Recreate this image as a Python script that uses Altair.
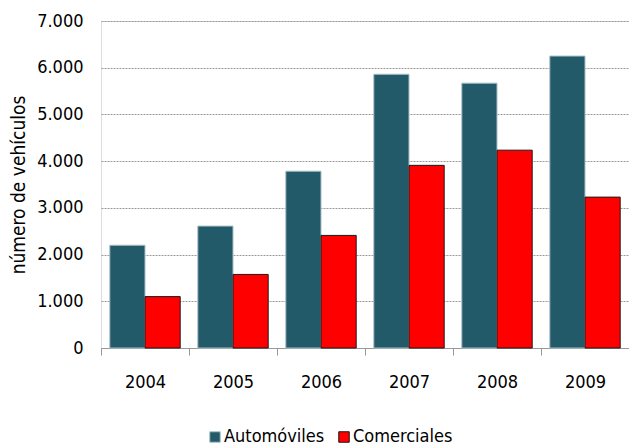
import altair as alt
import pandas as pd

years = ["2004", "2005", "2006", "2007", "2008", "2009"]
automoviles = [2200, 2610, 3785, 5860, 5670, 6250]
comerciales = [1100, 1575, 2410, 3910, 4235, 3230]
series = ["Automóviles", "Comerciales"]
fill_colors = ["#235A69", "#FF0000"]
edge_colors = ["#A9C1C8", "#1A1A1A"]

rows = []
for i, y in enumerate(years):
    rows.append({"year": y, "tipo": series[0], "value": automoviles[i]})
    rows.append({"year": y, "tipo": series[1], "value": comerciales[i]})
df = pd.DataFrame(rows)

FONT = "DejaVu Sans Condensed"

chart = (
    alt.Chart(df)
    .mark_bar(strokeWidth=1)
    .encode(
        x=alt.X(
            "year:N",
            sort=years,
            title=None,
            scale=alt.Scale(paddingInner=0, paddingOuter=0),
            axis=alt.Axis(
                labelAngle=0,
                tickBand="extent",
                domainColor="#999999",
                tickColor="#999999",
                tickSize=7,
                labelPadding=18,
                labelFontSize=18,
                labelColor="#000000",
                labelFont=FONT,
            ),
        ),
        xOffset=alt.XOffset(
            "tipo:N",
            sort=series,
            scale=alt.Scale(paddingInner=0, paddingOuter=0.25),
        ),
        y=alt.Y(
            "value:Q",
            title="número de vehículos",
            scale=alt.Scale(domain=[0, 7000], nice=False),
            axis=alt.Axis(
                values=[0, 1000, 2000, 3000, 4000, 5000, 6000, 7000],
                labelExpr="replace(format(datum.value, ','), ',', '.')",
                domain=False,
                ticks=False,
                labelPadding=18,
                labelFontSize=18,
                labelColor="#000000",
                labelFont=FONT,
                gridColor="#9A9A9A",
                gridDash=[2, 1],
                gridWidth=1,
                titleFont=FONT,
                titleFontSize=19,
                titleFontWeight="normal",
                titleColor="#000000",
                titleAngle=270,
                titleAlign="center",
                titleBaseline="alphabetic",
                titleX=-77,
                titleY=163.5,
            ),
        ),
        color=alt.Color(
            "tipo:N",
            sort=series,
            scale=alt.Scale(domain=series, range=fill_colors),
            legend=alt.Legend(
                title=None,
                orient="none",
                direction="horizontal",
                legendX=105,
                legendY=407,
                symbolType="square",
                symbolSize=110,
                symbolStrokeWidth=1,
                labelFont=FONT,
                labelFontSize=18,
                labelColor="#000000",
                labelOffset=0,
                columnPadding=10,
            ),
        ),
        stroke=alt.Stroke(
            "tipo:N",
            sort=series,
            scale=alt.Scale(domain=series, range=edge_colors),
            legend=None,
        ),
    )
    .properties(
        width=528,
        height=327,
        autosize=alt.AutoSizeParams(type="none"),
        padding={"left": 101, "top": 21, "right": 0, "bottom": 100},
    )
    .configure_view(stroke=None)
    .configure(background="#FFFFFF")
)

chart.save("out.html", embed_options={"renderer": "svg", "actions": False})
